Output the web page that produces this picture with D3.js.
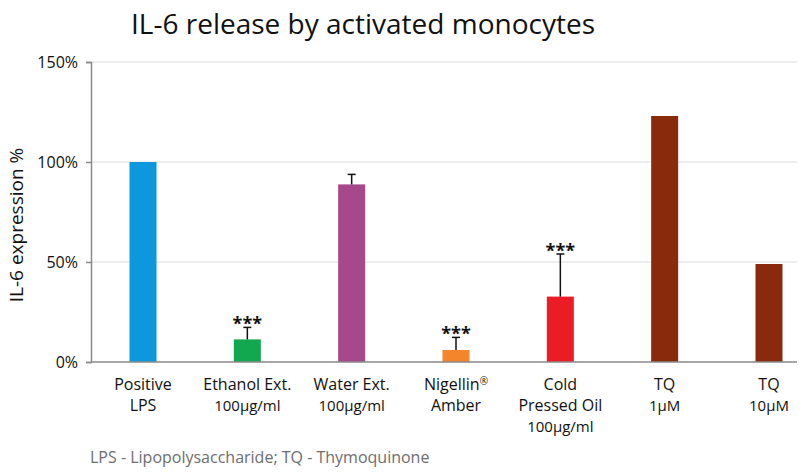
<!DOCTYPE html>
<html>
<head>
<meta charset="utf-8">
<script src="https://cdn.jsdelivr.net/npm/d3@7"></script>
<style>
  body { margin: 0; background: #fff; }
  svg { font-family: "Open Sans", sans-serif; }
</style>
</head>
<body>
<div id="chart-area"></div>
<script>
// data
var categories = ["Positive LPS", "Ethanol Ext.", "Water Ext.", "Nigellin Amber", "Cold Pressed Oil", "TQ 1", "TQ 10"];
var labelLines = [
    ["Positive", "LPS"],
    ["Ethanol Ext.", "100µg/ml"],
    ["Water Ext.", "100µg/ml"],
    ["Nigellin®", "Amber"],
    ["Cold", "Pressed Oil", "100µg/ml"],
    ["TQ", "1µM"],
    ["TQ", "10µM"]
];
var values = [100, 11.3, 88.8, 6, 32.7, 123, 49];
var errors = [0, 6, 5, 6.3, 21.3, 0, 0];
var signif = ["", "***", "", "***", "***", "", ""];
var colors = ["#0d97dd", "#12a850", "#a6488a", "#f5852a", "#ec1c27", "#8a2a0d", "#8a2a0d"];
var yTicks = [0, 50, 100, 150];

var width = 812, height = 472;
var plotLeft = 91, plotRight = 797, plotTop = 62, plotBottom = 362;

var svg = d3.select("#chart-area")
    .append("svg")
        .attr("width", width)
        .attr("height", height);

// Scales
var x = d3.scalePoint()
    .domain(categories)
    .range([143, 769]);

var y = d3.scaleLinear()
    .domain([0, 150])
    .range([plotBottom, plotTop]);

var barW = 27;

// Gridlines
svg.append("g")
    .selectAll("line")
    .data(yTicks.slice(1))
    .enter().append("line")
        .attr("x1", plotLeft)
        .attr("x2", plotRight)
        .attr("y1", function(d){ return y(d); })
        .attr("y2", function(d){ return y(d); })
        .attr("stroke", "#dcdcdc")
        .attr("stroke-width", 1);

// Y Axis
var yAxisCall = d3.axisLeft(y)
    .tickValues(yTicks)
    .tickSize(5)
    .tickPadding(8)
    .tickFormat(function(d){ return d + "%"; });
var yAxis = svg.append("g")
    .attr("transform", "translate(" + plotLeft + ",0)")
    .call(yAxisCall);
yAxis.select(".domain").attr("stroke", "#8a8a8a").attr("stroke-width", 1.5);
yAxis.selectAll(".tick line").attr("stroke", "#8a8a8a").attr("stroke-width", 1.5);
yAxis.selectAll(".tick text")
    .attr("font-size", "16px")
    .attr("fill", "#111")
    .style("font-family", "'Open Sans', sans-serif");

// Bars
svg.append("g")
    .selectAll("rect")
    .data(values)
    .enter().append("rect")
        .attr("x", function(d, i){ return x(categories[i]) - barW / 2; })
        .attr("y", function(d){ return y(d); })
        .attr("width", barW)
        .attr("height", function(d){ return y(0) - y(d); })
        .attr("fill", function(d, i){ return colors[i]; });

// Error bars (upper only)
var eb = svg.append("g");
values.forEach(function(v, i) {
    if (!errors[i]) return;
    var cx = x(categories[i]);
    eb.append("line")
        .attr("x1", cx).attr("x2", cx)
        .attr("y1", y(v)).attr("y2", y(v + errors[i]))
        .attr("stroke", "#111").attr("stroke-width", 1.5);
    eb.append("line")
        .attr("x1", cx - 4).attr("x2", cx + 4)
        .attr("y1", y(v + errors[i])).attr("y2", y(v + errors[i]))
        .attr("stroke", "#111").attr("stroke-width", 1.5);
    if (signif[i]) {
        eb.append("text")
            .attr("x", cx)
            .attr("y", y(v + errors[i]) + 3)
            .attr("text-anchor", "middle")
            .attr("font-size", "18px")
            .attr("font-weight", "bold")
            .attr("fill", "#111")
            .text(signif[i]);
    }
});

// X axis line
svg.append("line")
    .attr("x1", plotLeft).attr("x2", plotRight)
    .attr("y1", plotBottom).attr("y2", plotBottom)
    .attr("stroke", "#8a8a8a").attr("stroke-width", 1.5);

// X labels
var xl = svg.append("g");
labelLines.forEach(function(lines, i) {
    var t = xl.append("text")
        .attr("text-anchor", "middle")
        .attr("fill", "#111");
    lines.forEach(function(s, j) {
        var isSmall = s.indexOf("µg") >= 0 || s.indexOf("µM") >= 0;
        var sp = t.append("tspan")
            .attr("x", x(categories[i]))
            .attr("y", 390 + j * 21)
            .attr("font-size", isSmall ? "15px" : "16px");
        if (s.indexOf("®") >= 0) {
            sp.text(s.replace("®", ""));
            sp.append("tspan").attr("font-size", "10px").attr("dy", -5).text("®");
        } else {
            sp.text(s);
        }
    });
});

// Title
svg.append("text")
    .attr("x", 363)
    .attr("y", 34)
    .attr("text-anchor", "middle")
    .attr("font-size", "28px")
    .attr("fill", "#111")
    .text("IL-6 release by activated monocytes");

// Y Label
svg.append("text")
    .attr("transform", "rotate(-90)")
    .attr("x", -225)
    .attr("y", 23)
    .attr("text-anchor", "middle")
    .attr("font-size", "19px")
    .attr("fill", "#111")
    .text("IL-6 expression %");

// Footnote
svg.append("text")
    .attr("x", 90)
    .attr("y", 463)
    .attr("font-size", "16px")
    .attr("fill", "#6e6e6e")
    .text("LPS - Lipopolysaccharide; TQ - Thymoquinone");
</script>
</body>
</html>
